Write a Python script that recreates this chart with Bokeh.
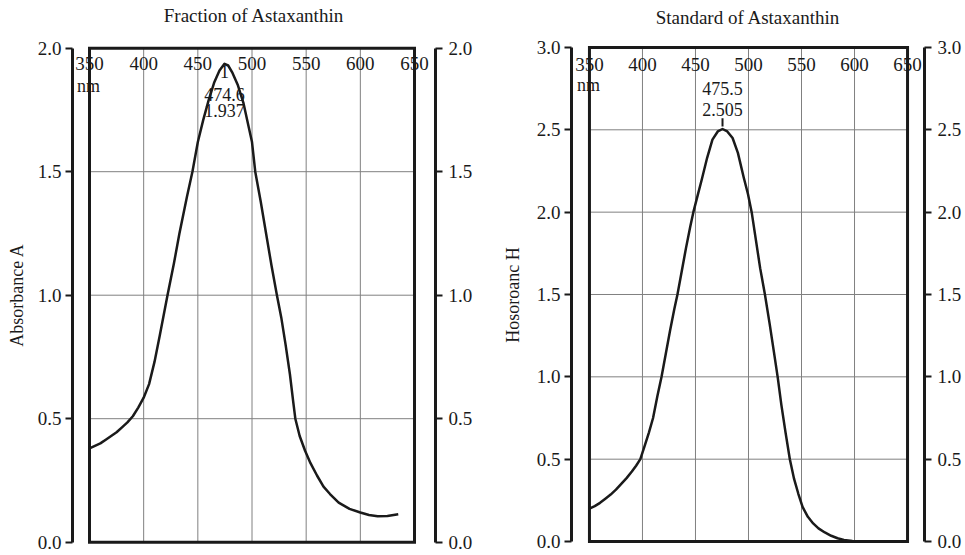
from bokeh.plotting import figure
from bokeh.models import Range1d, LinearAxis, FixedTicker, NumeralTickFormatter
from bokeh.layouts import row
from bokeh.core.properties import value
from bokeh.embed import file_html
from bokeh.resources import INLINE

FONT = "Liberation Serif"
INK = "#1a1a1a"
GRID = "#808080"

# ---------------- data ----------------
x_ticks = [350, 400, 450, 500, 550, 600, 650]
x_unit = "nm"

frac_title = "Fraction of Astaxanthin"
frac_ylabel = "Absorbance A"
frac_y_ticks = [0.0, 0.5, 1.0, 1.5, 2.0]
frac_wl = [350, 355, 360, 365, 370, 375, 380, 385, 390, 395, 400, 405, 410, 415,
           422, 428, 433, 440, 445, 450, 455, 460, 465, 470, 474.6, 478, 482, 487,
           492, 497, 500, 503, 508, 513, 518, 523, 527, 531, 535, 538, 540, 544,
           549, 554, 560, 566, 572, 580, 590, 600, 608, 616, 625, 635]
frac_abs = [0.38, 0.39, 0.40, 0.415, 0.43, 0.445, 0.465, 0.485, 0.51, 0.545, 0.585,
            0.64, 0.73, 0.84, 1.00, 1.13, 1.25, 1.40, 1.50, 1.62, 1.71, 1.79, 1.86,
            1.91, 1.937, 1.93, 1.90, 1.85, 1.78, 1.68, 1.62, 1.50, 1.38, 1.25, 1.12,
            1.00, 0.91, 0.80, 0.68, 0.57, 0.50, 0.43, 0.37, 0.32, 0.27, 0.225, 0.195,
            0.16, 0.135, 0.12, 0.11, 0.105, 0.106, 0.113]
frac_peak_id = "1"
frac_peak_wl = 474.6
frac_peak_abs = 1.937

std_title = "Standard of Astaxanthin"
std_ylabel = "Hosoroanc H"
std_y_ticks = [0.0, 0.5, 1.0, 1.5, 2.0, 2.5, 3.0]
std_wl = [350, 355, 360, 365, 370, 375, 380, 385, 390, 394, 398, 402, 406, 410,
          414, 418, 422, 426, 430, 433, 437, 441, 445, 448, 452, 456, 461, 466,
          471, 475.5, 480, 485, 490, 495.5, 499.5, 503, 507, 511, 515.5, 520, 524,
          527.5, 531, 535, 539, 543, 547, 551, 556, 561, 566, 572, 578, 584, 590,
          598, 606, 650]
std_abs = [0.20, 0.215, 0.235, 0.26, 0.285, 0.315, 0.35, 0.385, 0.425, 0.46, 0.50,
           0.58, 0.66, 0.75, 0.88, 1.00, 1.14, 1.28, 1.41, 1.50, 1.64, 1.78, 1.91,
           2.00, 2.10, 2.20, 2.33, 2.44, 2.49, 2.505, 2.49, 2.45, 2.36, 2.21, 2.11,
           2.00, 1.83, 1.66, 1.50, 1.32, 1.15, 1.00, 0.83, 0.66, 0.50, 0.38, 0.29,
           0.21, 0.15, 0.11, 0.08, 0.055, 0.035, 0.02, 0.01, 0.003, 0.0, 0.0]
std_peak_wl = 475.5
std_peak_abs = 2.505

FIG_H = 554


def make_panel(title, ylabel, y_ticks, wl, ab, width, xr, yr, borders,
               title_center, title_gap, label_standoff, top_label_dy):
    p = figure(width=width, height=FIG_H, x_range=Range1d(*xr), y_range=Range1d(*yr),
               output_backend="svg", toolbar_location=None, x_axis_location=None,
               y_axis_location="left",
               min_border_left=borders[0], min_border_right=borders[1],
               min_border_top=borders[2], min_border_bottom=borders[3])
    p.outline_line_color = None
    p.grid.visible = False
    p.background_fill_color = "white"
    p.border_fill_color = "white"

    # chart title: label of an invisible top axis (no ticks, no line)
    title_axis = LinearAxis(ticker=FixedTicker(ticks=[]), axis_line_color=None,
                            bounds=(title_center - 120, title_center + 120),
                            major_tick_in=0, major_tick_out=0,
                            minor_tick_in=0, minor_tick_out=0,
                            major_label_standoff=0,
                            axis_label=title, axis_label_standoff=title_gap,
                            axis_label_text_font=FONT, axis_label_text_font_size="19px",
                            axis_label_text_font_style="normal",
                            axis_label_text_color=INK)
    p.add_layout(title_axis, "above")

    def style_axis(ax):
        ax.ticker = FixedTicker(ticks=y_ticks)
        ax.formatter = NumeralTickFormatter(format="0.0")
        ax.bounds = (y_ticks[0], y_ticks[-1])
        ax.axis_line_width = 3
        ax.axis_line_color = INK
        ax.major_tick_in = 0
        ax.major_tick_out = 7
        ax.major_tick_line_width = 2
        ax.major_tick_line_color = INK
        ax.minor_tick_out = 0
        ax.minor_tick_in = 0
        ax.major_label_standoff = 4
        ax.major_label_text_font = FONT
        ax.major_label_text_font_size = "19px"
        ax.major_label_text_color = INK

    yl = p.yaxis[0]
    style_axis(yl)
    yl.axis_label = ylabel
    yl.axis_label_text_font = FONT
    yl.axis_label_text_font_size = "18px"
    yl.axis_label_text_font_style = "normal"
    yl.axis_label_text_color = INK
    yl.axis_label_standoff = label_standoff

    yr_ax = LinearAxis()
    style_axis(yr_ax)
    yr_ax.major_label_standoff = 6
    p.add_layout(yr_ax, "right")

    # grid inside the inner box
    gx = x_ticks[1:-1]
    p.segment(x0=gx, y0=[y_ticks[0]] * len(gx), x1=gx, y1=[y_ticks[-1]] * len(gx),
              line_color=GRID, line_width=1)
    gy = y_ticks[1:-1]
    p.segment(x0=[x_ticks[0]] * len(gy), y0=gy, x1=[x_ticks[-1]] * len(gy), y1=gy,
              line_color=GRID, line_width=1)

    # inner box
    p.quad(left=[x_ticks[0]], right=[x_ticks[-1]], bottom=[y_ticks[0]], top=[y_ticks[-1]],
           fill_color=None, line_color=INK, line_width=3, line_join="miter")

    # wavelength tick labels inside the box
    p.text(x=x_ticks, y=[y_ticks[-1]] * len(x_ticks), text=[str(t) for t in x_ticks],
           text_align="center", text_baseline="middle", y_offset=top_label_dy,
           text_font=value(FONT), text_font_size="19px", text_color=INK)
    p.text(x=[x_ticks[0]], y=[y_ticks[-1]], text=[x_unit], text_align="center",
           text_baseline="middle", y_offset=38, x_offset=-1,
           text_font=value(FONT), text_font_size="18px", text_color=INK)

    p.line(wl, ab, line_color=INK, line_width=2.5, line_join="round")
    return p


# left panel: frame spans x 72..435, y 44..545
p1 = make_panel(frac_title, frac_ylabel, frac_y_ticks, frac_wl, frac_abs,
                width=480, xr=(334.31, 669.38), yr=(-0.0134, 2.0150),
                borders=(72, 45, 44, 9), title_center=495.85, title_gap=19,
                label_standoff=8, top_label_dy=15)
p1.text(x=[frac_peak_wl] * 3, y=[frac_peak_abs] * 3,
        text=[frac_peak_id, f"{frac_peak_wl:.1f}", f"{frac_peak_abs:.3f}"],
        y_offset=[8, 31, 47], text_align="center", text_baseline="middle",
        text_font=value(FONT), text_font_size="18px", text_color=INK)

# right panel: frame spans x 571..925, y 40..545
p2 = make_panel(std_title, std_ylabel, std_y_ticks, std_wl, std_abs,
                width=484, xr=(333.07, 666.0), yr=(-0.0241, 3.018),
                borders=(91, 39, 40, 9), title_center=507.06, title_gap=17,
                label_standoff=11, top_label_dy=17)
p2.segment(x0=[std_peak_wl], y0=[std_peak_abs + 0.015], x1=[std_peak_wl],
           y1=[std_peak_abs + 0.065], line_color=INK, line_width=2)
p2.text(x=[std_peak_wl] * 2, y=[std_peak_abs] * 2,
        text=[f"{std_peak_wl:.1f}", f"{std_peak_abs:.3f}"],
        y_offset=[-40, -19], text_align="center", text_baseline="middle",
        text_font=value(FONT), text_font_size="18px", text_color=INK)

layout = row(p1, p2)
open("out.html", "w").write(file_html(layout, INLINE))
